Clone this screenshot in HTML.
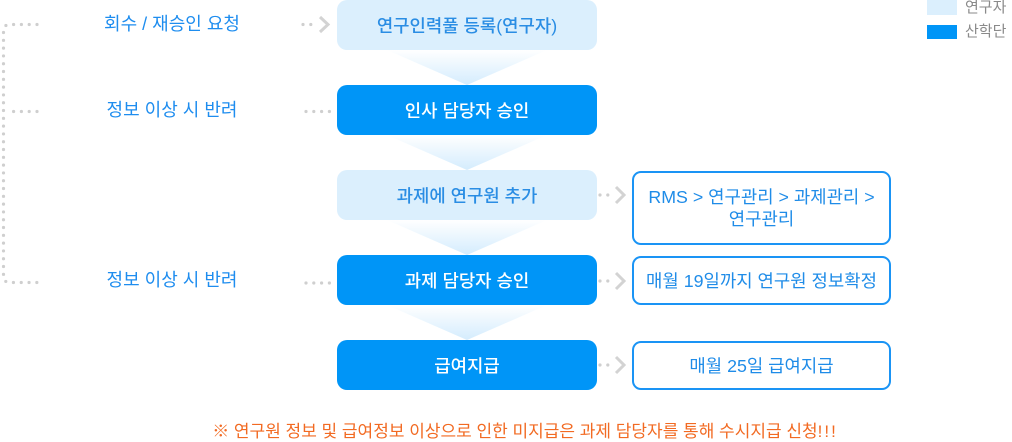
<!DOCTYPE html>
<html>
<head>
<meta charset="utf-8">
<style>
  html,body{margin:0;padding:0;background:#fff;}
  body{width:1012px;height:441px;position:relative;overflow:hidden;
       font-family:"Liberation Sans","Noto Sans CJK KR",sans-serif;}
  .abs{position:absolute;}
  .box{position:absolute;left:337px;width:260px;height:50px;border-radius:10px;
       display:flex;align-items:center;justify-content:center;font-size:17.8px;font-weight:500;}
  .light{background:#dbeffd;color:#2a8de4;}
  .dark{background:#0095f7;color:#fff;}
  .rbox{position:absolute;left:632px;width:255px;border:2px solid #1a94f5;border-radius:9px;
        display:flex;align-items:center;justify-content:center;text-align:center;
        color:#1f8ce8;font-size:17.8px;line-height:22px;}
  .lab{position:absolute;width:220px;left:62px;text-align:center;color:#1e8def;font-size:18px;line-height:20px;}
  .leg{position:absolute;left:965px;color:#8a8a8a;font-size:15px;line-height:16px;}
</style>
</head>
<body>
<svg class="abs" style="left:0;top:0" width="1012" height="441">
  <defs>
    <linearGradient id="g" x1="0" y1="0" x2="0" y2="1">
      <stop offset="0" stop-color="#ffffff"/>
      <stop offset="1" stop-color="#d4ecfd"/>
    </linearGradient>
  </defs>
  <polygon points="387,50 547,50 467,85" fill="url(#g)"/>
  <polygon points="387,135 547,135 467,170" fill="url(#g)"/>
  <polygon points="387,220 547,220 467,255" fill="url(#g)"/>
  <polygon points="387,305 547,305 467,340" fill="url(#g)"/>

  <g stroke="#cfcfcf" stroke-width="3.2" stroke-linecap="round" fill="none" stroke-dasharray="0 7.8">
    <path d="M37,24.5 L10,24.5 Q3.5,24.5 3.5,31 L3.5,276 Q3.5,282.5 10,282.5 L37,282.5"/>
    <path d="M37,111.5 L10,111.5"/>
    <path d="M303,24.5 L312,24.5"/>
    <path d="M306,111.5 L330,111.5"/>
    <path d="M306,283 L330,283"/>
    <path d="M600,195 L608,195"/>
    <path d="M600,281 L608,281"/>
    <path d="M600,365 L608,365"/>
  </g>
  <g stroke="#d3d3d3" stroke-width="3" fill="none" stroke-linejoin="miter">
    <polyline points="320,17 328,24.5 320,32"/>
    <polyline points="616,187 624,195 616,203"/>
    <polyline points="616,273 624,281 616,289"/>
    <polyline points="616,357 624,365 616,373"/>
  </g>
</svg>

<div class="box light" style="top:0">연구인력풀 등록(연구자)</div>
<div class="box dark" style="top:85px">인사 담당자 승인</div>
<div class="box light" style="top:170px">과제에 연구원 추가</div>
<div class="box dark" style="top:255px">과제 담당자 승인</div>
<div class="box dark" style="top:340px">급여지급</div>

<div class="lab" style="top:14px">회수 / 재승인 요청</div>
<div class="lab" style="top:100px">정보 이상 시 반려</div>
<div class="lab" style="top:270px">정보 이상 시 반려</div>

<div class="rbox" style="top:171px;height:70px">RMS &gt; 연구관리 &gt; 과제관리 &gt;<br>연구관리</div>
<div class="rbox" style="top:256px;height:45px">매월 19일까지 연구원 정보확정</div>
<div class="rbox" style="top:341px;height:45px">매월 25일 급여지급</div>

<div class="abs" style="left:927px;top:0;width:30px;height:15px;background:#dbeffd"></div>
<div class="abs" style="left:927px;top:25px;width:30px;height:14px;background:#0095f7"></div>
<div class="leg" style="top:0">연구자</div>
<div class="leg" style="top:24px">산학단</div>

<div class="abs" style="left:0;width:1012px;top:422px;text-align:center;color:#f26a22;font-size:17px;line-height:20px;padding-left:38px;box-sizing:border-box;">※ 연구원 정보 및 급여정보 이상으로 인한 미지급은 과제 담당자를 통해 수시지급 신청<span style="letter-spacing:2px">!!!</span></div>
</body>
</html>
